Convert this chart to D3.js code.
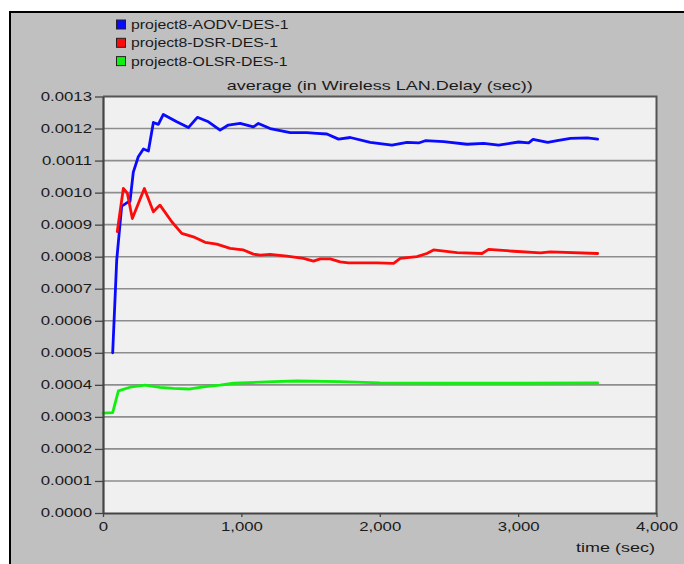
<!DOCTYPE html>
<html><head><meta charset="utf-8">
<script src="https://cdn.jsdelivr.net/npm/d3@7"></script>
<style>
body{margin:0;background:#fff}
svg{display:block}
text{font-family:"Liberation Sans",Arial,sans-serif;fill:#1a1a1a}
</style>
</head><body><svg id="c" width="684" height="564"></svg>
<script>
const seriesNames = ["project8-AODV-DES-1", "project8-DSR-DES-1", "project8-OLSR-DES-1"];
const seriesColors = ["#0a0aff", "#ff0a0a", "#10f010"];

const aodvTime = [70, 99, 135, 147, 183, 195, 219, 255, 292, 328, 364, 400, 436, 533, 617, 682, 762, 846, 906, 991, 1087, 1123, 1208, 1353, 1473, 1546, 1618, 1702, 1787, 1931, 2088, 2197, 2281, 2329, 2462, 2631, 2751, 2859, 3004, 3076, 3108, 3214, 3282, 3378, 3499, 3575];
const aodvDelay = [0.000500, 0.000789, 0.000958, 0.000961, 0.000971, 0.000972, 0.001064, 0.001112, 0.001136, 0.001130, 0.001219, 0.001213, 0.001244, 0.001221, 0.001203, 0.001235, 0.001221, 0.001195, 0.001211, 0.001216, 0.001205, 0.001216, 0.001200, 0.001187, 0.001187, 0.001185, 0.001183, 0.001167, 0.001172, 0.001157, 0.001148, 0.001157, 0.001155, 0.001162, 0.001159, 0.001151, 0.001154, 0.001148, 0.001158, 0.001155, 0.001166, 0.001157, 0.001162, 0.001169, 0.001171, 0.001167];

const dsrTime = [103, 147, 176, 212, 299, 364, 388, 412, 497, 569, 653, 738, 822, 919, 979, 1015, 1087, 1136, 1208, 1329, 1449, 1521, 1570, 1642, 1714, 1774, 1980, 2100, 2148, 2269, 2340, 2389, 2558, 2739, 2787, 2968, 3161, 3233, 3575];
const dsrDelay = [0.000878, 0.001013, 0.000998, 0.000919, 0.001013, 0.000940, 0.000951, 0.000961, 0.000909, 0.000873, 0.000862, 0.000845, 0.000839, 0.000826, 0.000823, 0.000821, 0.000808, 0.000805, 0.000807, 0.000802, 0.000795, 0.000786, 0.000793, 0.000793, 0.000784, 0.000781, 0.000781, 0.000779, 0.000795, 0.000800, 0.000810, 0.000821, 0.000813, 0.000810, 0.000823, 0.000817, 0.000812, 0.000815, 0.000810];

const olsrTime = [0, 70, 111, 208, 304, 412, 508, 617, 726, 846, 943, 1232, 1401, 1714, 2000, 2500, 3000, 3575];
const olsrDelay = [0.000312, 0.000313, 0.000381, 0.000394, 0.000399, 0.000392, 0.000389, 0.000387, 0.000394, 0.000399, 0.000405, 0.000410, 0.000412, 0.000410, 0.000406, 0.000405, 0.000405, 0.000406];

const yTicks = [0, 0.0001, 0.0002, 0.0003, 0.0004, 0.0005, 0.0006, 0.0007, 0.0008, 0.0009, 0.0010, 0.0011, 0.0012, 0.0013];
const xTicks = [0, 1000, 2000, 3000, 4000];
const chartTitle = "average (in Wireless LAN.Delay (sec))";
const xLabel = "time (sec)";

const series = [
  {name: seriesNames[0], color: seriesColors[0], t: aodvTime, v: aodvDelay},
  {name: seriesNames[1], color: seriesColors[1], t: dsrTime, v: dsrDelay},
  {name: seriesNames[2], color: seriesColors[2], t: olsrTime, v: olsrDelay}
];

const SX = 1.4;
function stretch(sel, sx) {
  sel.each(function() {
    const t = d3.select(this);
    const x = +t.attr("x") || 0;
    t.attr("transform", `translate(${x},0) scale(${sx},1) translate(${-x},0)`);
  });
}

const svg = d3.select("#c");
// outer panel
svg.append("rect").attr("x", 10).attr("y", 12).attr("width", 674).attr("height", 552).attr("fill", "#c0c0c0");
svg.append("line").attr("x1", 10).attr("x2", 10).attr("y1", 11).attr("y2", 564).attr("stroke", "#000").attr("stroke-width", 2);
svg.append("line").attr("x1", 9).attr("x2", 684).attr("y1", 12).attr("y2", 12).attr("stroke", "#000").attr("stroke-width", 2);

const L = 103, R = 656.5, T = 96.5, B = 513;
const x = d3.scaleLinear().domain([0, 4000]).range([L, R]);
const y = d3.scaleLinear().domain([0, 0.0013]).range([B, T]);

svg.append("rect").attr("x", L).attr("y", T).attr("width", R - L).attr("height", B - T).attr("fill", "#f0f0f0");

// gridlines
svg.append("g").selectAll("line").data(yTicks.slice(1, -1)).join("line")
  .attr("x1", L).attr("x2", R)
  .attr("y1", d => y(d)).attr("y2", d => y(d))
  .attr("stroke", "#8e8e8e").attr("stroke-width", 1.6);

// top & right frame
svg.append("path").attr("d", `M${L},${T}H${R}V${B}`).attr("fill", "none").attr("stroke", "#555").attr("stroke-width", 2);

// data lines
const line = d3.line().x(d => x(d[0])).y(d => y(d[1]));
series.forEach(s => {
  svg.append("path")
    .datum(s.t.map((t, i) => [t, s.v[i]]))
    .attr("d", line)
    .attr("fill", "none")
    .attr("stroke", s.color)
    .attr("stroke-width", 2.8)
    .attr("stroke-linejoin", "round")
    .attr("stroke-linecap", "round");
});

// axes
const yAxis = svg.append("g").attr("transform", `translate(${L},0)`)
  .call(d3.axisLeft(y).tickValues(yTicks).tickFormat(d3.format(".4f")).tickSize(8).tickSizeOuter(0).tickPadding(3));
const xAxis = svg.append("g").attr("transform", `translate(0,${B})`)
  .call(d3.axisBottom(x).tickValues(xTicks).tickFormat(d3.format(",d")).tickSize(4).tickSizeOuter(0).tickPadding(5));
[yAxis, xAxis].forEach(a => {
  a.select(".domain").attr("stroke", "#444").attr("stroke-width", 2.2);
  a.selectAll(".tick line").attr("stroke", "#444").attr("stroke-width", 1.3);
  a.selectAll("text").attr("font-size", 12).attr("fill", "#1a1a1a").style("font-family", '"Liberation Sans",Arial,sans-serif');
  stretch(a.selectAll("text"), SX);
});

// title
const title = svg.append("text").attr("x", (L + R) / 2).attr("y", 90).attr("text-anchor", "middle")
  .attr("font-size", 12).text(chartTitle);
stretch(title, 1.5);

// x label
const xl = svg.append("text").attr("x", 655).attr("y", 552).attr("text-anchor", "end")
  .attr("font-size", 12).text(xLabel);
stretch(xl, 1.5);

// legend
const lg = svg.append("g");
series.forEach((s, i) => {
  const cy = 24.5 + i * 18.3;
  lg.append("rect").attr("x", 116.5).attr("y", cy - 4.5).attr("width", 9).attr("height", 9)
    .attr("fill", s.color).attr("stroke", "#222").attr("stroke-width", 1);
  const t = lg.append("text").attr("x", 131).attr("y", cy + 4.5).attr("font-size", 12).text(s.name);
  stretch(t, 1.32);
});
</script>
</body></html>
